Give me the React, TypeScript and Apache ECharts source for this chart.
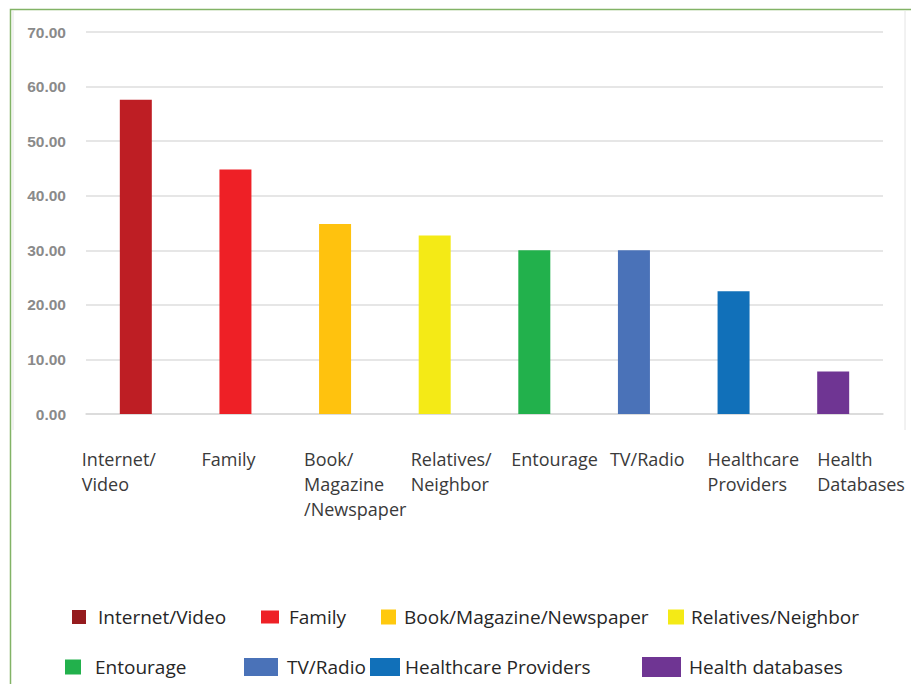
import React, { useEffect, useRef } from "react";
import * as echarts from "echarts";

const categories = ["Internet/Video", "Family", "Book/Magazine/Newspaper", "Relatives/Neighbor", "Entourage", "TV/Radio", "Healthcare Providers", "Health databases"];
const xLabels = ["Internet/\nVideo", "Family", "Book/\nMagazine\n/Newspaper", "Relatives/\nNeighbor", "Entourage", "TV/Radio", "Healthcare\nProviders", "Health\nDatabases"];
const values = [57.6, 44.8, 34.8, 32.7, 30.0, 30.0, 22.5, 7.8];
const colors = ["#BE1E24", "#EE2026", "#FFC20E", "#F4EA16", "#22B14C", "#4A72B8", "#1170B9", "#6F3593"];
const legendColors = ["#951B1E", "#EE2026", "#FFC90E", "#F4EA16", "#22B14C", "#4A72B8", "#1170B9", "#6F3593"];
const yTicks = [0, 10, 20, 30, 40, 50, 60, 70];

// legend layout: [markerLeft, centerY, markerW, markerH, extraGap]
const legendLayout = [
  [72, 617, 14, 14, 7],
  [261, 617, 18, 13, 5],
  [381, 617, 15, 15, 3],
  [668, 617, 16, 15, 2],
  [65, 667, 16, 15, 9],
  [244, 667, 34, 18, 4],
  [370, 667, 30, 18, 0],
  [642, 667, 39, 20, 3],
];
const labelPad = [0, 20, 23, 30, 31, 30, 28, 38];

export default function App() {
  const ref = useRef<HTMLDivElement>(null);
  useEffect(() => {
    if (!ref.current) return;
    const chart = echarts.init(ref.current, null, { renderer: "svg" });
    const series = categories.map((name, i) => ({
      name,
      type: "bar",
      stack: "all",
      barWidth: 32,
      xAxisIndex: 0,
      yAxisIndex: 0,
      data: values.map((v, j) => (j === i ? v : "-")),
      itemStyle: { color: colors[i] },
    }));
    const legends = categories.map((name, i) => {
      const [l, cy, w, h, gap] = legendLayout[i];
      return {
        data: [{ name, itemStyle: { color: legendColors[i] } }],
        left: l,
        top: cy - 12,
        padding: 0,
        itemWidth: w,
        itemHeight: h,
        icon: "rect",
        selectedMode: false,
        textStyle: {
          fontFamily: "Open Sans",
          fontSize: 19,
          color: "#262626",
          lineHeight: 24,
          padding: [0, 0, 0, gap],
        },
      };
    });
    const labelStyle = {
      align: "left",
      verticalAlign: "top",
      lineHeight: 25,
      fontSize: 18,
      fontFamily: "Open Sans",
      color: "#3a3a3a",
    };
    chart.setOption({
      animation: false,
      backgroundColor: "#ffffff",
      grid: [
        { left: 86, right: 28, top: 32, bottom: 270 },
        { left: 32, right: 82, top: 32, bottom: 270 },
      ],
      legend: legends,
      xAxis: [
        {
          gridIndex: 0,
          type: "category",
          data: categories,
          axisLine: { lineStyle: { color: "#d9d9d9", width: 1.5 } },
          axisTick: { show: false },
          axisLabel: { show: false },
        },
        {
          gridIndex: 1,
          type: "category",
          data: xLabels.map((v, i) => ({
            value: v,
            textStyle: { ...labelStyle, padding: [0, 0, 0, labelPad[i]] },
          })),
          axisLine: { show: false },
          axisTick: { show: false },
          splitLine: { show: false },
          axisLabel: { interval: 0, margin: 32, ...labelStyle },
        },
      ],
      yAxis: [
        {
          gridIndex: 0,
          type: "value",
          min: yTicks[0],
          max: yTicks[yTicks.length - 1],
          interval: 10,
          axisLine: { show: false },
          axisTick: { show: false },
          splitLine: { lineStyle: { color: "#dedede", width: 1.5 } },
          axisLabel: {
            formatter: (v: number) => v.toFixed(2),
            fontFamily: "Liberation Sans",
            fontWeight: "bold",
            fontSize: 15.5,
            color: "#8a8a8a",
            margin: 20,
          },
        },
        { gridIndex: 1, type: "value", show: false, min: 0, max: 70 },
      ],
      graphic: [
        {
          type: "rect",
          shape: { x: 10.5, y: 9.5, width: 930, height: 700 },
          style: { fill: "none", stroke: "#82b366", lineWidth: 1.5 },
          silent: true,
        },
        {
          type: "line",
          shape: { x1: 13, y1: 11, x2: 13, y2: 430 },
          style: { stroke: "#e4e4e4", lineWidth: 1 },
          silent: true,
        },
        {
          type: "line",
          shape: { x1: 905, y1: 11, x2: 905, y2: 430 },
          style: { stroke: "#e4e4e4", lineWidth: 1 },
          silent: true,
        },
      ],
      series,
    });
    return () => chart.dispose();
  }, []);
  return (
    <div
      ref={ref}
      style={{ position: "absolute", left: 0, top: 0, width: 911, height: 684 }}
    />
  );
}
